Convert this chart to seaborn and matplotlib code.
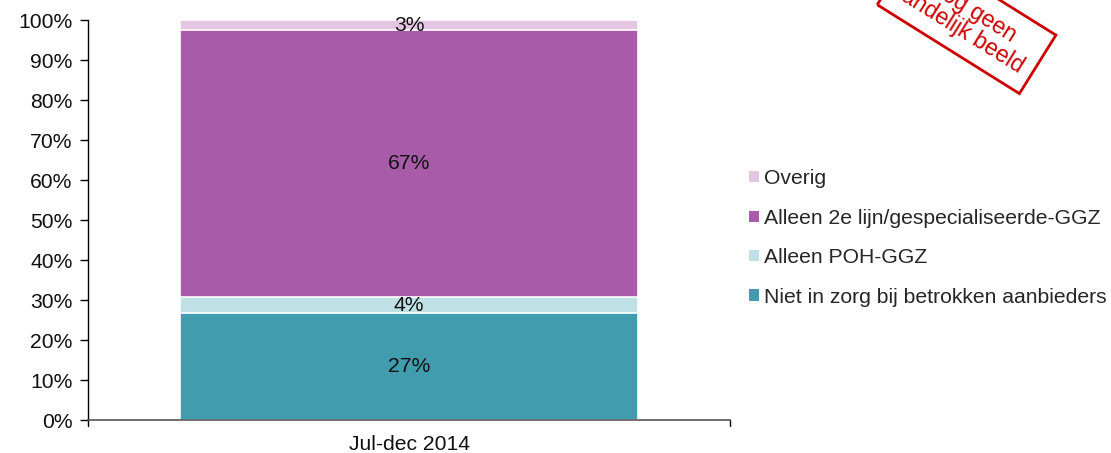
import matplotlib
matplotlib.use("Agg")
import matplotlib.pyplot as plt
import seaborn as sns
import pandas as pd
import numpy as np
from matplotlib.patches import Patch

# Data
categories = ["Jul-dec 2014"]
series = ["Niet in zorg bij betrokken aanbieders", "Alleen POH-GGZ",
          "Alleen 2e lijn/gespecialiseerde-GGZ", "Overig"]
values = [26.7, 4.0, 66.8, 2.5]
labels = ["27%", "4%", "67%", "3%"]
colors = ["#419DAE", "#BFE0E4", "#A85BA8", "#E5C6E2"]
yticks = [0, 10, 20, 30, 40, 50, 60, 70, 80, 90, 100]

sns.set_style("white")
plt.rcParams["font.family"] = ["Liberation Sans", "DejaVu Sans"]

FS = 15.2
fig = plt.figure(figsize=(11.11, 4.53), dpi=100)
ax = fig.add_axes([0.0792, 0.0728, 0.578, 0.8830])

cum = np.cumsum(values)
for i in reversed(range(len(series))):
    df = pd.DataFrame({"cat": categories, "val": [cum[i]]})
    sns.barplot(data=df, x="cat", y="val", color=colors[i], width=0.713,
                edgecolor="white", linewidth=1.2, ax=ax, saturation=1)

bottoms = np.concatenate([[0], cum[:-1]])
for i in range(len(series)):
    ax.text(0, bottoms[i] + values[i] / 2, labels[i], ha="center", va="center",
            fontsize=FS, color="#111111")

ax.set_xlim(-0.5, 0.5)
ax.set_ylim(0, 100)
ax.set_yticks(yticks)
ax.set_yticklabels([f"{t}%" for t in yticks], fontsize=FS, color="#111111")
ax.set_xticks([0])
ax.set_xticklabels(categories, fontsize=FS, color="#111111")
ax.tick_params(axis="x", length=0, pad=11)
ax.tick_params(axis="y", length=6, width=1, color="black", left=True, pad=5)
ax.set_xlabel("")
ax.set_ylabel("")
for s in ["top", "right"]:
    ax.spines[s].set_visible(False)
ax.spines["left"].set_color("black")
ax.spines["left"].set_linewidth(1)
ax.spines["bottom"].set_color("#555555")
ax.spines["bottom"].set_linewidth(1.2)
for xb in [-0.5, 0.5]:
    ax.plot([xb, xb], [0, -1.5], color="black", lw=1, clip_on=False,
            transform=ax.transData)

handles = [Patch(facecolor=colors[i], edgecolor="none", label=series[i])
           for i in reversed(range(len(series)))]
fig.legend(handles=handles, loc="upper left", bbox_to_anchor=(0.667, 0.645),
           frameon=False, fontsize=FS, handlelength=0.45, handleheight=0.45,
           handletextpad=0.25, labelspacing=0.97, borderaxespad=0)

fig.text(0.870, 0.956, "Nog geen\nlandelijk beeld", rotation=-32,
         rotation_mode="anchor", ha="center", va="center", fontsize=16.5,
         color="#CC0000", multialignment="center", linespacing=1.0,
         bbox=dict(boxstyle="square,pad=0.5", facecolor="none",
                   edgecolor="#CC0000", linewidth=2))

fig.savefig("out.png", dpi=100)
